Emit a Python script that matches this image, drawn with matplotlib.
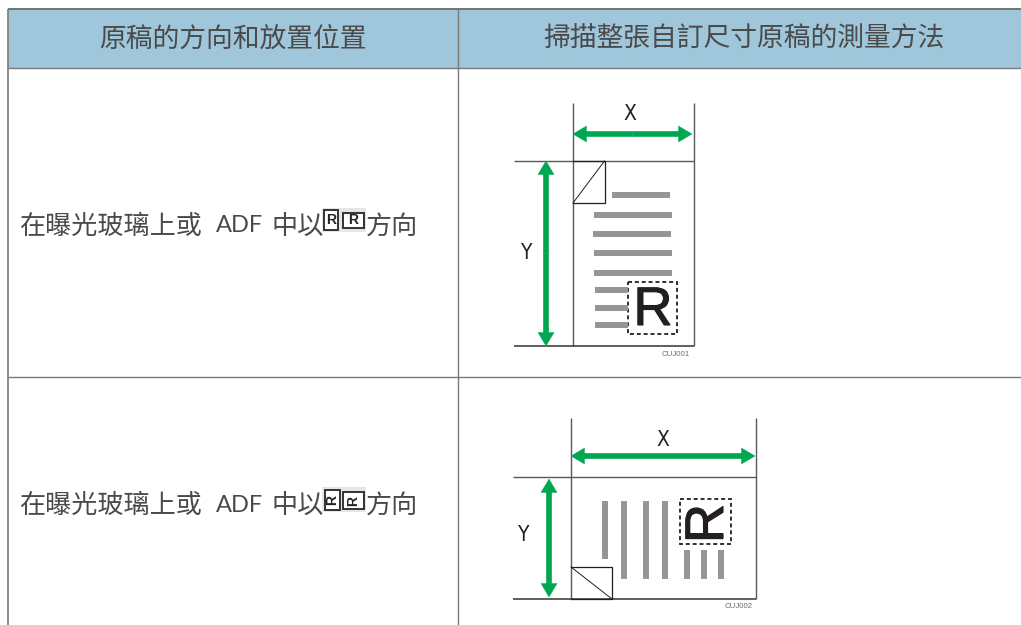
#!/usr/bin/env python3
"""Table of scan-size diagrams, drawn in image pixel coordinates."""

import matplotlib

matplotlib.use("Agg")

import matplotlib.patheffects as pe
import matplotlib.pyplot as plt
from matplotlib.patches import FancyArrow, Rectangle

CJK = ["Noto Sans CJK TC", "DejaVu Sans"]
plt.rcParams["font.family"] = CJK

WIDTH, HEIGHT = 1021, 625
HEADERS = ["原稿的方向和放置位置", "掃描整張自訂尺寸原稿的測量方法"]
ROW_PARTS = ["在曝光玻璃上或", "ADF", "中以", "方向"]
ROW_PART_X = [19.5, 216, 271, 366]
ROW_TEXT_Y = [226, 505]

# gray text bars of each little page: (start, end, cross position)
BARS_1 = [
    (612, 670, 195),
    (594, 672, 214.7),
    (593, 671, 234),
    (594, 672, 253.3),
    (594, 672, 272.7),
    (595, 628, 290.3),
    (595, 628, 308),
    (595, 628, 325.3),
]
BARS_2 = [
    (500.7, 558.7, 605),
    (500.7, 578.7, 624.3),
    (500.7, 578.7, 645.7),
    (500.7, 578.7, 665),
    (550, 578.7, 687),
    (550, 578.7, 704),
    (550, 578.7, 721.3),
]

LINE = "#7a7a7a"
HEAD_BG = "#9fc6da"
GREEN = "#00a651"
GRAY = "#939598"
TEXT = "#4a4a4a"
INK = "#231f20"


def hline(ax, y, x0, x1, color=INK, lw=0.9):
    ax.plot([x0, x1], [y, y], color=color, lw=lw, solid_capstyle="butt")


def vline(ax, x, y0, y1, color=INK, lw=0.9):
    ax.plot([x, x], [y0, y1], color=color, lw=lw, solid_capstyle="butt")


def double_arrow(ax, x0, y0, x1, y1):
    mx, my = (x0 + x1) / 2, (y0 + y1) / 2
    for ex, ey in ((x0, y0), (x1, y1)):
        ax.add_patch(
            FancyArrow(
                mx, my, ex - mx, ey - my,
                width=5.4, head_width=16, head_length=13.5,
                length_includes_head=True, color=GREEN, lw=0.3, zorder=3,
            )
        )


def dim_label(ax, x, y, s):
    ax.text(x, y, s, family="DejaVu Sans", stretch="condensed", fontsize=15, color=INK,
            ha="center", va="center")


def code_label(ax, x, y, s):
    ax.text(x, y, s, family="Liberation Sans", fontsize=5.7, color="#6d6e71",
            ha="center", va="center")


def big_r(ax, x, y, rotation):
    # regular face is too thin and bold too heavy, so thicken the regular one
    ax.text(x, y, "R", family="Liberation Sans", fontsize=39, color=INK, rotation=rotation,
            ha="center", va="center",
            path_effects=[pe.withStroke(linewidth=0.8, foreground=INK)])


def small_icon(ax, x0, y0, x1, y1, rotation):
    ax.add_patch(Rectangle((x0, y0), x1 - x0, y1 - y0, fc="white", ec="#333333", lw=1.4, zorder=3))
    ax.text((x0 + x1) / 2, (y0 + y1) / 2, "R", family="Liberation Sans", weight="bold",
            fontsize=10, rotation=rotation, color="#222222", ha="center", va="center", zorder=4)


def page_frame(ax, left, right, top, bottom, line_top, line_left, fold):
    vline(ax, left, line_top, bottom, color="#58595b", lw=1.0)
    vline(ax, right, line_top, bottom, color="#58595b", lw=1.0)
    hline(ax, top, line_left, right, color="#58595b", lw=1.0)
    hline(ax, bottom, line_left, right, color="#333333", lw=1.1)
    fx0, fy0, fx1, fy1, dx0, dy0, dx1, dy1 = fold
    ax.plot([fx0, fx1, fx1, fx0], [fy0, fy0, fy1, fy1], color=INK, lw=0.9)
    ax.plot([dx0, dx1], [dy0, dy1], color=INK, lw=0.7)


def draw_table(ax):
    ax.add_patch(Rectangle((8, 9), WIDTH - 8, 59, fc=HEAD_BG, ec="none"))
    hline(ax, 9, 8, WIDTH, color="#6a6a6a", lw=1.3)
    hline(ax, 68, 8, WIDTH, color=LINE, lw=1.0)
    hline(ax, 377, 8, WIDTH, color=LINE, lw=1.0)
    vline(ax, 8, 9, HEIGHT, color=LINE, lw=1.2)
    vline(ax, 458, 9, HEIGHT, color=LINE, lw=1.0)
    ax.text(233, 39.5, HEADERS[0], fontsize=19.3, color=TEXT, ha="center", va="center")
    ax.text(744, 39.5, HEADERS[1], fontsize=19.3, color=TEXT, ha="center", va="center")
    for y in ROW_TEXT_Y:
        for s, x in zip(ROW_PARTS, ROW_PART_X):
            if s == "ADF":
                ax.text(x, y, s, family="Lato", fontsize=17, color=TEXT, ha="left", va="center")
            else:
                ax.text(x, y, s, fontsize=18.8, color=TEXT, ha="left", va="center")


def draw_icons(ax):
    ax.add_patch(Rectangle((322, 208), 44, 24, fc="#e6e6e6", ec="none"))
    small_icon(ax, 324, 210, 338, 230, 0)
    small_icon(ax, 343, 213, 364, 228, 0)
    ax.add_patch(Rectangle((322, 487), 44, 25, fc="#e6e6e6", ec="none"))
    small_icon(ax, 325, 490, 340, 510, 90)
    small_icon(ax, 343, 492, 364, 509, 90)


def draw_first(ax):
    page_frame(ax, 573, 694, 161, 346, 103, 514,
               (573, 161, 604.5, 203, 604.5, 161, 573, 203))
    double_arrow(ax, 573, 134, 692, 134)
    double_arrow(ax, 546, 161, 546, 346)
    for x0, x1, y in BARS_1:
        ax.plot([x0, x1], [y, y], color=GRAY, lw=4.3, solid_capstyle="butt")
    ax.add_patch(Rectangle((628, 282), 49, 52, fc="none", ec=INK, lw=1.3, ls=(0, (2.2, 1.6))))
    big_r(ax, 653, 311, 0)
    dim_label(ax, 630, 114, "X")
    dim_label(ax, 527, 253, "Y")
    code_label(ax, 676, 354, "CUJ001")


def draw_second(ax):
    page_frame(ax, 571, 756, 477, 599, 418, 513,
               (571, 567, 612, 599, 571, 567, 612, 599))
    double_arrow(ax, 571, 456, 755, 456)
    double_arrow(ax, 549, 479, 549, 597)
    for y0, y1, x in BARS_2:
        ax.plot([x, x], [y0, y1], color=GRAY, lw=4.3, solid_capstyle="butt")
    ax.add_patch(Rectangle((680, 498.7), 51, 45.3, fc="none", ec=INK, lw=1.3, ls=(0, (2.2, 1.6))))
    big_r(ax, 709, 523.5, 90)
    dim_label(ax, 663, 440, "X")
    dim_label(ax, 524, 535, "Y")
    code_label(ax, 739, 606, "CUJ002")


def main():
    fig = plt.figure(figsize=(WIDTH / 100, HEIGHT / 100), dpi=100, facecolor="white")
    ax = fig.add_axes([0, 0, 1, 1])
    ax.set_xlim(0, WIDTH)
    ax.set_ylim(HEIGHT, 0)
    ax.axis("off")
    draw_table(ax)
    draw_icons(ax)
    draw_first(ax)
    draw_second(ax)
    fig.savefig("out.png", dpi=100)
    plt.close(fig)


if __name__ == "__main__":
    main()
